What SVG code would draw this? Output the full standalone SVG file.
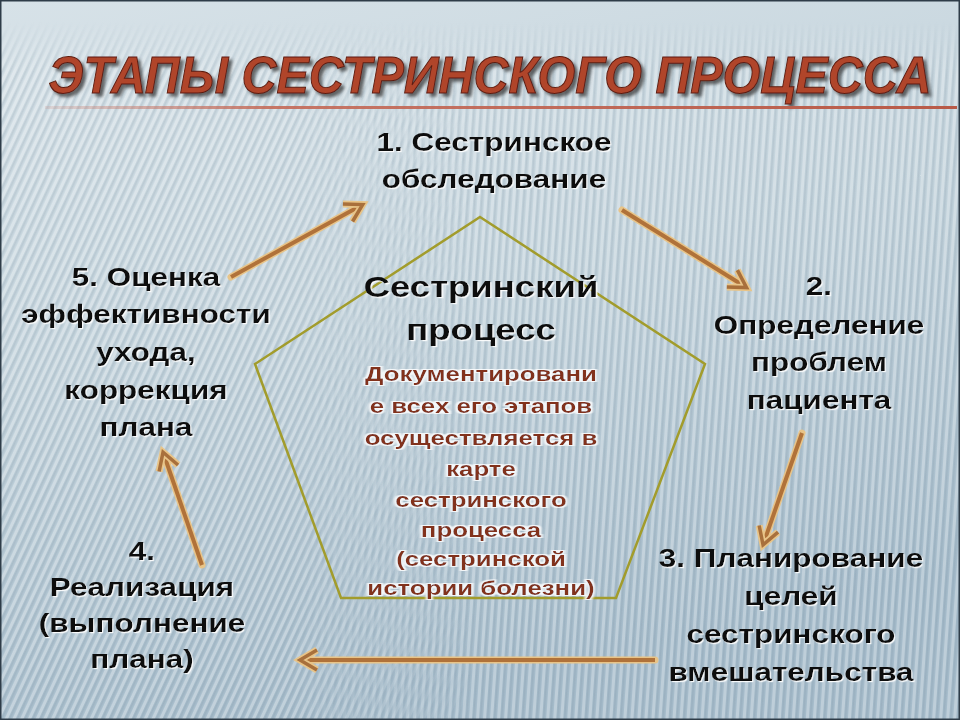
<svg xmlns="http://www.w3.org/2000/svg" width="960" height="720" viewBox="0 0 960 720">
  <defs>
    <style>
      .n { font-family: "Liberation Sans", Arial, sans-serif; font-weight: bold; font-size: 25px; fill: #111; text-anchor: middle; }
      .c { font-family: "Liberation Sans", Arial, sans-serif; font-weight: bold; font-size: 29px; fill: #111; text-anchor: middle; }
      .r { font-family: "Liberation Sans", Arial, sans-serif; font-weight: bold; font-size: 20.5px; fill: #82301f; text-anchor: middle; }
      .title { font-family: "Liberation Sans", Arial, sans-serif; font-weight: bold; font-style: italic; font-size: 47px; fill: #b0442c; stroke: #5c1c10; stroke-width: 0.9; text-anchor: middle; }
      .arr-o { fill: none; stroke: #e8c488; stroke-width: 7; stroke-linecap: round; }
      .arr-i { fill: none; stroke: #b0723a; stroke-width: 4; stroke-linecap: butt; }
    </style>
    <linearGradient id="bg" x1="0" y1="0" x2="0.3" y2="1">
      <stop offset="0" stop-color="#d7e2e8"/>
      <stop offset="0.5" stop-color="#c3d3dc"/>
      <stop offset="1" stop-color="#a6bccb"/>
    </linearGradient>
    <linearGradient id="uline" x1="0" y1="0" x2="1" y2="0">
      <stop offset="0" stop-color="#c46a58" stop-opacity="0.15"/>
      <stop offset="0.25" stop-color="#c46a58" stop-opacity="0.9"/>
      <stop offset="1" stop-color="#b85a48"/>
    </linearGradient>
    <pattern id="stripesA" width="7" height="20" patternUnits="userSpaceOnUse" patternTransform="rotate(25)">
      <rect x="0" y="0" width="3" height="20" fill="#ffffff" fill-opacity="0.3"/>
      <rect x="3.5" y="0" width="2" height="20" fill="#5a7484" fill-opacity="0.15"/>
    </pattern>
    <pattern id="stripesB" width="7" height="20" patternUnits="userSpaceOnUse" patternTransform="rotate(4)">
      <rect x="0" y="0" width="3" height="20" fill="#ffffff" fill-opacity="0.28"/>
      <rect x="3.5" y="0" width="2" height="20" fill="#5a7484" fill-opacity="0.15"/>
    </pattern>
    <linearGradient id="mgA" x1="0" y1="0" x2="1" y2="0">
      <stop offset="0" stop-color="#fff"/>
      <stop offset="0.3" stop-color="#fff"/>
      <stop offset="0.5" stop-color="#000"/>
    </linearGradient>
    <linearGradient id="mgB" x1="0" y1="0" x2="1" y2="0">
      <stop offset="0.3" stop-color="#000"/>
      <stop offset="0.5" stop-color="#fff"/>
    </linearGradient>
    <linearGradient id="mgTop" x1="0" y1="0" x2="0" y2="1">
      <stop offset="0.03" stop-color="#000"/>
      <stop offset="0.1" stop-color="#fff"/>
    </linearGradient>
    <mask id="mA"><rect width="960" height="720" fill="url(#mgA)"/></mask>
    <mask id="mB"><rect width="960" height="720" fill="url(#mgB)"/></mask>
    <mask id="mTop"><rect width="960" height="720" fill="url(#mgTop)"/></mask>
    <filter id="wsh" x="-10%" y="-10%" width="120%" height="130%">
      <feDropShadow dx="1.2" dy="1.2" stdDeviation="0.6" flood-color="#ffffff" flood-opacity="0.9"/>
    </filter>
    <filter id="glow" x="-10%" y="-10%" width="120%" height="120%">
      <feMorphology in="SourceAlpha" operator="dilate" radius="1.4" result="d"/>
      <feFlood flood-color="#ffffff" flood-opacity="0.85"/>
      <feComposite in2="d" operator="in" result="w"/>
      <feGaussianBlur in="w" stdDeviation="0.7" result="wb"/>
      <feMerge><feMergeNode in="wb"/><feMergeNode in="SourceGraphic"/></feMerge>
    </filter>
    <filter id="tsh" x="-5%" y="-20%" width="110%" height="150%">
      <feDropShadow dx="3" dy="3" stdDeviation="1.5" flood-color="#3a3a3a" flood-opacity="0.75"/>
    </filter>
    <marker id="ah" markerUnits="userSpaceOnUse" markerWidth="40" markerHeight="40" refX="-3" refY="0" orient="auto" overflow="visible">
      <path d="M-17,-10 L0,0 L-17,10" fill="none" stroke="#e8c488" stroke-width="7" stroke-linejoin="miter"/>
      <path d="M-17,-10 L0,0 L-17,10" fill="none" stroke="#a8703c" stroke-width="3.5" stroke-linejoin="miter"/>
    </marker>
  </defs>

  <!-- background -->
  <rect x="0" y="0" width="960" height="720" fill="url(#bg)"/>
  <g mask="url(#mTop)">
    <rect x="0" y="0" width="960" height="720" fill="url(#stripesA)" mask="url(#mA)"/>
    <rect x="0" y="0" width="960" height="720" fill="url(#stripesB)" mask="url(#mB)"/>
  </g>
  <rect x="0.75" y="0.75" width="958.5" height="718.5" fill="none" stroke="#2e3c48" stroke-width="1.5"/>

  <!-- title -->
  <g id="title">
    <g filter="url(#tsh)" transform="translate(490 93) scale(1.03 1.1)">
      <text class="title" x="0" y="0">ЭТАПЫ СЕСТРИНСКОГО ПРОЦЕССА</text>
    </g>
    <rect x="45" y="106" width="912" height="3" fill="url(#uline)"/>
  </g>

  <!-- central pentagon -->
  <g id="center">
    <polygon points="480,217 705,364 616,598 341,598 255,364" fill="none" stroke="#a29c2c" stroke-width="2.5"/>
    <g filter="url(#wsh)" transform="translate(481 0) scale(1.26 1)">
      <text class="c" x="0" y="297">Сестринский</text>
      <text class="c" x="0" y="340">процесс</text>
    </g>
    <g filter="url(#glow)" transform="translate(481 0) scale(1.26 1)">
      <text class="r" x="0" y="381">Документировани</text>
      <text class="r" x="0" y="413">е всех его этапов</text>
      <text class="r" x="0" y="445">осуществляется в</text>
      <text class="r" x="0" y="476">карте</text>
      <text class="r" x="0" y="507">сестринского</text>
      <text class="r" x="0" y="537">процесса</text>
      <text class="r" x="0" y="566">(сестринской</text>
      <text class="r" x="0" y="595">истории болезни)</text>
    </g>
  </g>

  <!-- nodes -->
  <g id="node1" filter="url(#wsh)">
    <g transform="translate(494 0) scale(1.26 1)">
      <text class="n" x="0" y="151">1. Сестринское</text>
      <text class="n" x="0" y="188">обследование</text>
    </g>
  </g>
  <g id="node2" filter="url(#wsh)">
    <g transform="translate(819 0) scale(1.26 1)">
      <text class="n" x="0" y="295">2.</text>
      <text class="n" x="0" y="334">Определение</text>
      <text class="n" x="0" y="371">проблем</text>
      <text class="n" x="0" y="409">пациента</text>
    </g>
  </g>
  <g id="node3" filter="url(#wsh)">
    <g transform="translate(791 0) scale(1.26 1)">
      <text class="n" x="0" y="567">3. Планирование</text>
      <text class="n" x="0" y="605">целей</text>
      <text class="n" x="0" y="643">сестринского</text>
      <text class="n" x="0" y="681">вмешательства</text>
    </g>
  </g>
  <g id="node4" filter="url(#wsh)">
    <g transform="translate(142 0) scale(1.26 1)">
      <text class="n" x="0" y="560">4.</text>
      <text class="n" x="0" y="596">Реализация</text>
      <text class="n" x="0" y="632">(выполнение</text>
      <text class="n" x="0" y="668">плана)</text>
    </g>
  </g>
  <g id="node5" filter="url(#wsh)">
    <g transform="translate(146 0) scale(1.26 1)">
      <text class="n" x="0" y="286">5. Оценка</text>
      <text class="n" x="0" y="323">эффективности</text>
      <text class="n" x="0" y="361">ухода,</text>
      <text class="n" x="0" y="399">коррекция</text>
      <text class="n" x="0" y="436">плана</text>
    </g>
  </g>

  <!-- connectors -->
  <g id="connectors">
    <g class="outline">
      <line class="arr-o" x1="231" y1="277" x2="360" y2="206"/>
      <line class="arr-o" x1="622" y1="210" x2="744" y2="286"/>
      <line class="arr-o" x1="802" y1="433" x2="764" y2="542"/>
      <line class="arr-o" x1="655" y1="660" x2="303" y2="660"/>
      <line class="arr-o" x1="202" y1="565" x2="164" y2="455"/>
    </g>
    <line class="arr-i" x1="231" y1="277" x2="360" y2="206" marker-end="url(#ah)"/>
    <line class="arr-i" x1="622" y1="210" x2="744" y2="286" marker-end="url(#ah)"/>
    <line class="arr-i" x1="802" y1="433" x2="764" y2="542" marker-end="url(#ah)"/>
    <line class="arr-i" x1="655" y1="660" x2="303" y2="660" marker-end="url(#ah)"/>
    <line class="arr-i" x1="202" y1="565" x2="164" y2="455" marker-end="url(#ah)"/>
  </g>
</svg>
